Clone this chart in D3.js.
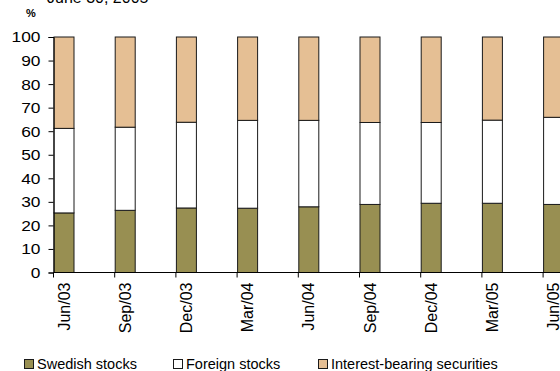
<!DOCTYPE html>
<html>
<head>
<meta charset="utf-8">
<script src="https://cdn.jsdelivr.net/npm/d3@7"></script>
<style>
  html, body { margin: 0; padding: 0; background: #fff; }
  svg { display: block; font-family: Arial, "Liberation Sans", sans-serif; }
</style>
</head>
<body>
<svg id="chart" width="560" height="371"></svg>
<script>
// Portfolio composition by quarter, percent of total
const quarters = ["Jun/03", "Sep/03", "Dec/03", "Mar/04", "Jun/04", "Sep/04", "Dec/04", "Mar/05", "Jun/05"];
const swedishStocks = [25.3, 26.4, 27.4, 27.3, 27.9, 28.9, 29.4, 29.4, 28.9];
const foreignStocks = [35.9, 35.3, 36.4, 37.3, 36.7, 34.8, 34.3, 35.3, 37.0];
const interestBearing = [38.8, 38.3, 36.2, 35.4, 35.4, 36.3, 36.3, 35.3, 34.1];
const seriesNames = ["Swedish stocks", "Foreign stocks", "Interest-bearing securities"];
const seriesColors = ["#988f52", "#ffffff", "#e5bf94"];
const yTicks = [0, 10, 20, 30, 40, 50, 60, 70, 80, 90, 100];

const svg = d3.select("#chart");

const rows = quarters.map((q, i) => ({
  q,
  "Swedish stocks": swedishStocks[i],
  "Foreign stocks": foreignStocks[i],
  "Interest-bearing securities": interestBearing[i]
}));
const stacked = d3.stack().keys(seriesNames)(rows);

const x0 = 53.5, step = 61.2, barW = 20;
const x = d3.scaleBand().domain(quarters).range([x0, x0 + step * quarters.length]).padding(0);
const y = d3.scaleLinear().domain([0, 100]).range([272.5, 37]);

// Title line above the plot (partially visible at the top edge)
svg.append("text")
  .attr("x", 47).attr("y", 3)
  .attr("font-size", 16).attr("fill", "#000")
  .text("June 30, 2005");

svg.append("text")
  .attr("x", 26).attr("y", 17)
  .attr("font-size", 11).attr("font-weight", "bold")
  .text("%");

// Stacked bars, anchored at the left edge of each category slot
svg.append("g").selectAll("g")
  .data(stacked)
  .join("g")
  .attr("fill", (d, i) => seriesColors[i])
  .selectAll("rect")
  .data(d => d)
  .join("rect")
  .attr("x", d => x(d.data.q) + 0.5)
  .attr("width", barW)
  .attr("y", d => y(d[1]))
  .attr("height", d => y(d[0]) - y(d[1]))
  .attr("stroke", "#1a1a1a")
  .attr("stroke-width", 1);

// Y axis (labels slightly widened)
const yStretch = 1.12;
const yAxis = svg.append("g")
  .attr("transform", `translate(${x0},0)`)
  .call(d3.axisLeft(y).tickValues(yTicks).tickSize(5).tickPadding(8));
yAxis.selectAll("text")
  .attr("font-size", 15.5).attr("fill", "#000")
  .attr("x", -13 / yStretch)
  .attr("transform", `scale(${yStretch},1)`);
yAxis.selectAll("line, path").attr("stroke", "#000");

// X axis: line and ticks at category boundaries
const xAxisG = svg.append("g");
xAxisG.append("line")
  .attr("x1", x0).attr("x2", 560)
  .attr("y1", y(0)).attr("y2", y(0))
  .attr("stroke", "#000");
xAxisG.selectAll("line.tick")
  .data(quarters)
  .join("line")
  .attr("class", "tick")
  .attr("x1", d => x(d)).attr("x2", d => x(d))
  .attr("y1", y(0)).attr("y2", y(0) + 5)
  .attr("stroke", "#000");

// Rotated category labels centered under each bar
xAxisG.selectAll("text.qlabel")
  .data(quarters)
  .join("text")
  .attr("class", "qlabel")
  .attr("font-size", 16)
  .attr("text-anchor", "end")
  .attr("dy", "0.35em")
  .attr("transform", d => `translate(${x(d) + 0.5 + barW / 2},${y(0) + 10}) rotate(-90)`)
  .text(d => d);

// Legend
const legendX = [24, 173, 318];
const legend = svg.append("g");
seriesNames.forEach((name, i) => {
  legend.append("rect")
    .attr("x", legendX[i] + 0.5).attr("y", 359.5)
    .attr("width", 9).attr("height", 9)
    .attr("fill", seriesColors[i]).attr("stroke", "#1a1a1a");
  legend.append("text")
    .attr("x", legendX[i] + 13).attr("y", 369)
    .attr("font-size", 14.5).attr("fill", "#000")
    .text(name);
});
</script>
</body>
</html>
